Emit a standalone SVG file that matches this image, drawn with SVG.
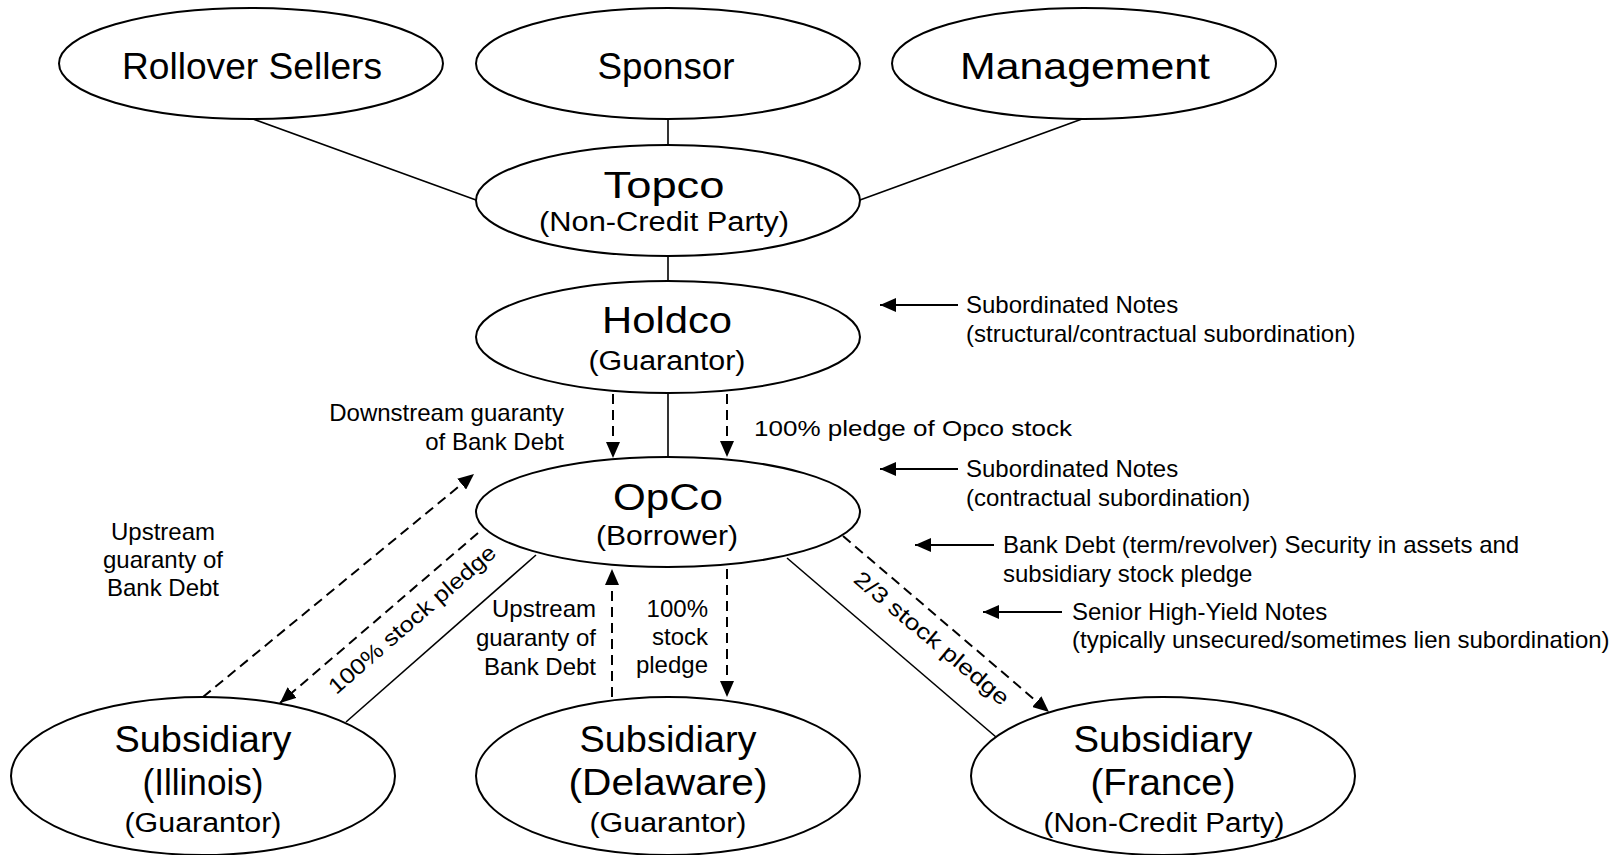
<svg xmlns="http://www.w3.org/2000/svg" width="1619" height="855" viewBox="0 0 1619 855">
<style>
.n ellipse{fill:#fff;stroke:#000;stroke-width:2}
text{font-family:"Liberation Sans",Arial,sans-serif;fill:#000}
.m{font-size:36px;text-anchor:middle}
.s{font-size:27px;text-anchor:middle}
.a{font-size:24px}
.c{font-size:22px}
.mid{text-anchor:middle}
.end{text-anchor:end}
.ln{stroke:#000;stroke-width:1.6;fill:none}
.ds{stroke:#000;stroke-width:2;fill:none;stroke-dasharray:10 6}
.ar{stroke:#000;stroke-width:2;fill:none}
</style>
<defs>
<marker id="ah" markerUnits="userSpaceOnUse" markerWidth="16" markerHeight="14" refX="16" refY="7" orient="auto">
<path d="M0,0 L16,7 L0,14 z" fill="#000"/>
</marker>
</defs>

<g id="connectors">
<line class="ln" x1="253" y1="119" x2="476" y2="200"/>
<line class="ln" x1="668" y1="119" x2="668" y2="145"/>
<line class="ln" x1="1082" y1="119" x2="860" y2="200"/>
<line class="ln" x1="668" y1="256" x2="668" y2="281"/>
<line class="ln" x1="668" y1="393" x2="668" y2="457"/>
<line class="ds" x1="613" y1="394" x2="613" y2="458" marker-end="url(#ah)"/>
<line class="ds" x1="727" y1="394" x2="727" y2="457" marker-end="url(#ah)"/>
<line class="ds" x1="203" y1="697" x2="474" y2="474" marker-end="url(#ah)"/>
<line class="ds" x1="478" y1="533" x2="280" y2="703" marker-end="url(#ah)"/>
<line class="ln" x1="536" y1="555" x2="346" y2="722"/>
<line class="ds" x1="612" y1="697" x2="612" y2="569" marker-end="url(#ah)"/>
<line class="ds" x1="727" y1="569" x2="727" y2="697" marker-end="url(#ah)"/>
<line class="ln" x1="787" y1="558" x2="996" y2="737"/>
<line class="ds" x1="843" y1="536" x2="1049" y2="712" marker-end="url(#ah)"/>
<line class="ar" x1="958" y1="305" x2="880" y2="305" marker-end="url(#ah)"/>
<line class="ar" x1="958" y1="469" x2="880" y2="469" marker-end="url(#ah)"/>
<line class="ar" x1="994" y1="545" x2="915" y2="545" marker-end="url(#ah)"/>
<line class="ar" x1="1062" y1="612" x2="983" y2="612" marker-end="url(#ah)"/>
</g>

<g id="rollover" class="n">
<ellipse cx="251" cy="63.5" rx="192" ry="55.5"/>
<text class="m" x="252" y="79" textLength="260" lengthAdjust="spacingAndGlyphs">Rollover Sellers</text>
</g>
<g id="sponsor" class="n">
<ellipse cx="668" cy="63.5" rx="192" ry="55.5"/>
<text class="m" x="666" y="79" textLength="137" lengthAdjust="spacingAndGlyphs">Sponsor</text>
</g>
<g id="management" class="n">
<ellipse cx="1084" cy="63.5" rx="192" ry="55.5"/>
<text class="m" x="1085" y="79" textLength="250" lengthAdjust="spacingAndGlyphs">Management</text>
</g>
<g id="topco" class="n">
<ellipse cx="668" cy="200.5" rx="192" ry="55.5"/>
<text class="m" x="664" y="198" textLength="121" lengthAdjust="spacingAndGlyphs">Topco</text>
<text class="s" x="664" y="231" textLength="250" lengthAdjust="spacingAndGlyphs">(Non-Credit Party)</text>
</g>
<g id="holdco" class="n">
<ellipse cx="668" cy="337" rx="192" ry="56"/>
<text class="m" x="667" y="333" textLength="130" lengthAdjust="spacingAndGlyphs">Holdco</text>
<text class="s" x="667" y="370" textLength="157" lengthAdjust="spacingAndGlyphs">(Guarantor)</text>
</g>
<g id="opco" class="n">
<ellipse cx="668" cy="512" rx="192" ry="55"/>
<text class="m" x="668" y="510" textLength="110" lengthAdjust="spacingAndGlyphs">OpCo</text>
<text class="s" x="667" y="545" textLength="142" lengthAdjust="spacingAndGlyphs">(Borrower)</text>
</g>
<g id="sub-illinois" class="n">
<ellipse cx="203" cy="776" rx="192" ry="79"/>
<text class="m" x="203" y="752" textLength="177" lengthAdjust="spacingAndGlyphs">Subsidiary</text>
<text class="m" x="203" y="795" textLength="121" lengthAdjust="spacingAndGlyphs">(Illinois)</text>
<text class="s" x="203" y="832" textLength="157" lengthAdjust="spacingAndGlyphs">(Guarantor)</text>
</g>
<g id="sub-delaware" class="n">
<ellipse cx="668" cy="776" rx="192" ry="79"/>
<text class="m" x="668" y="752" textLength="177" lengthAdjust="spacingAndGlyphs">Subsidiary</text>
<text class="m" x="668" y="795" textLength="199" lengthAdjust="spacingAndGlyphs">(Delaware)</text>
<text class="s" x="668" y="832" textLength="157" lengthAdjust="spacingAndGlyphs">(Guarantor)</text>
</g>
<g id="sub-france" class="n">
<ellipse cx="1163" cy="776" rx="192" ry="79"/>
<text class="m" x="1163" y="752" textLength="179" lengthAdjust="spacingAndGlyphs">Subsidiary</text>
<text class="m" x="1163" y="795" textLength="145" lengthAdjust="spacingAndGlyphs">(France)</text>
<text class="s" x="1164" y="832" textLength="241" lengthAdjust="spacingAndGlyphs">(Non-Credit Party)</text>
</g>

<g id="labels">
<text class="a" x="966" y="313">Subordinated Notes</text>
<text class="a" x="966" y="341.5">(structural/contractual subordination)</text>
<text class="a" x="966" y="477">Subordinated Notes</text>
<text class="a" x="966" y="505.5">(contractual subordination)</text>
<text class="a" x="1003" y="553">Bank Debt (term/revolver) Security in assets and</text>
<text class="a" x="1003" y="581.5">subsidiary stock pledge</text>
<text class="a" x="1072" y="620">Senior High-Yield Notes</text>
<text class="a" x="1072" y="648">(typically unsecured/sometimes lien subordination)</text>
<text class="a end" x="564" y="421">Downstream guaranty</text>
<text class="a end" x="564" y="450">of Bank Debt</text>
<text class="c" x="754" y="436" textLength="318" lengthAdjust="spacingAndGlyphs">100% pledge of Opco stock</text>
<text class="a mid" x="163" y="540">Upstream</text>
<text class="a mid" x="163" y="568">guaranty of</text>
<text class="a mid" x="163" y="596">Bank Debt</text>
<text class="a end" x="596" y="617">Upstream</text>
<text class="a end" x="596" y="646">guaranty of</text>
<text class="a end" x="596" y="675">Bank Debt</text>
<text class="a end" x="708" y="617">100%</text>
<text class="a end" x="708" y="645">stock</text>
<text class="a end" x="708" y="673">pledge</text>
<text class="c mid" x="417" y="625" transform="rotate(-41 417 625)" textLength="214" lengthAdjust="spacingAndGlyphs">100% stock pledge</text>
<text class="c mid" x="927" y="644" transform="rotate(40 927 644)" textLength="195" lengthAdjust="spacingAndGlyphs">2/3 stock pledge</text>
</g>
</svg>
